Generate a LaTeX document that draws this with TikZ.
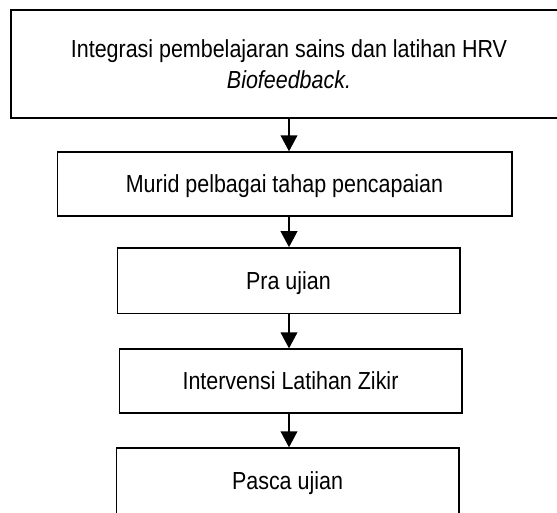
\documentclass[tikz,border=0pt]{standalone}
\usepackage{fontspec}
\setmainfont{Liberation Sans}
\usepackage{tikz}
\usetikzlibrary{arrows.meta,positioning}
\newcommand{\nar}[1]{\scalebox{0.87}[1]{#1}}

\begin{document}
\begin{tikzpicture}[x=0.75pt,y=-0.75pt,>={Triangle[length=12pt,width=12.5pt]},
  font=\fontsize{18.5}{23.25}\selectfont,
  stepbox/.style={draw,line width=1pt,inner sep=0pt,text depth=0pt,minimum width=257pt},
  flow/.style={->,line width=1.3pt}]
  \useasboundingbox (0,0) rectangle (557,512);
  \coordinate (axis) at (289,0);
  \node[draw,line width=1.5pt,inner sep=0pt,minimum width=417pt,minimum height=81pt,align=center] (integ) at (289,64)
    {\nar{Integrasi pembelajaran sains dan latihan HRV}\\\nar{\textit{Biofeedback.}}};
  \node[stepbox,minimum width=341pt,minimum height=48pt] (murid) at (284.5,184) {\nar{Murid pelbagai tahap pencapaian}};
  \node[stepbox,minimum height=49pt] (pra) at (288.5,280.5) {\nar{Pra ujian}};
  \node[stepbox,minimum height=48pt] (zikir) at (290.5,381) {\nar{Intervensi Latihan Zikir}};
  \node[stepbox,minimum height=49.5pt] (pasca) at (287.5,481) {\nar{Pasca ujian}};
  \draw[flow] (integ.south -| axis) -- (murid.north -| axis);
  \draw[flow] (murid.south -| axis) -- (pra.north -| axis);
  \draw[flow] (pra.south -| axis) -- (zikir.north -| axis);
  \draw[flow] (zikir.south -| axis) -- (pasca.north -| axis);
\end{tikzpicture}
\end{document}
